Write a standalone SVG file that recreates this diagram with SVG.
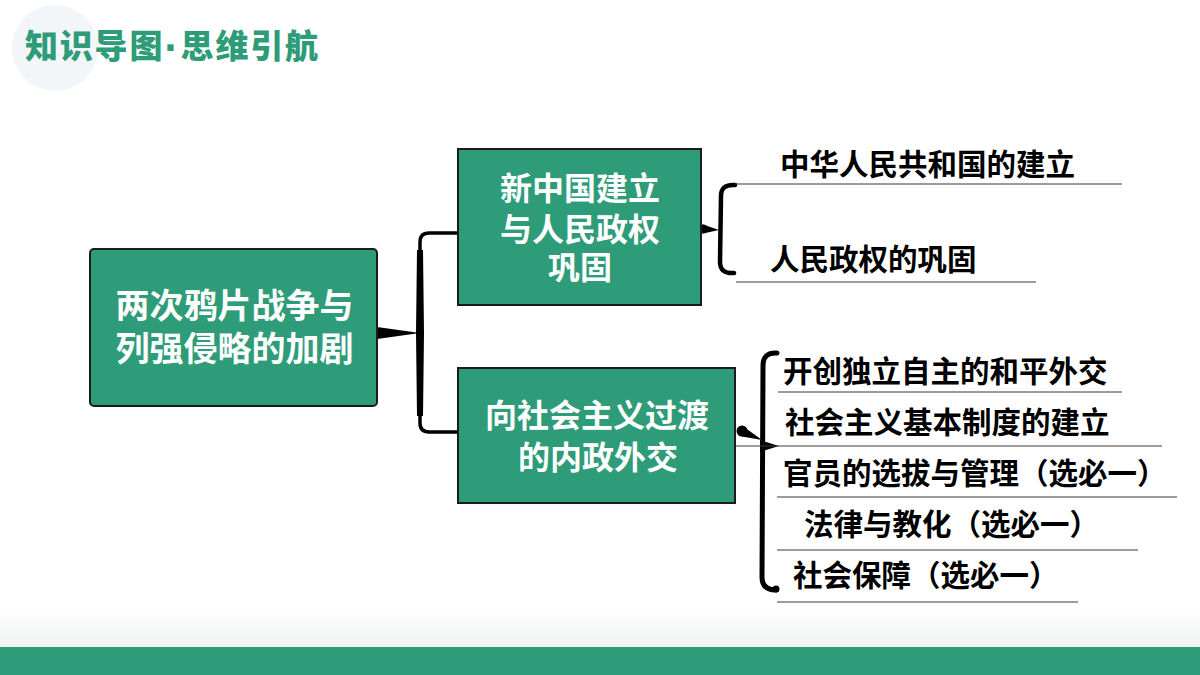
<svg xmlns="http://www.w3.org/2000/svg" width="1200" height="675" viewBox="0 0 1200 675">
<defs>
<linearGradient id="fade" x1="0" y1="0" x2="0" y2="1">
<stop offset="0" stop-color="#ffffff"/>
<stop offset="1" stop-color="#f0f1f1"/>
</linearGradient>
<style>
.box{fill:#2E9C78;stroke:#1b1b1b;stroke-width:2}
.bt{font-family:"Noto Sans CJK SC","Noto Sans",sans-serif;font-weight:700;fill:#ffffff;text-anchor:middle}
.lt{font-family:"Noto Sans CJK SC","Noto Sans",sans-serif;font-weight:700;fill:#000000;font-size:29.5px}
.tt{font-family:"Noto Sans CJK SC","Noto Sans",sans-serif;font-weight:900;fill:#2E9C78;font-size:33px}
.dot{font-family:"Liberation Sans",sans-serif;font-size:44px;font-weight:700}
.ul{stroke:#3a3a3a;stroke-width:1.2;fill:none}
.br{stroke:#000;fill:none;stroke-linecap:round;stroke-linejoin:round}
.nub{fill:#000}
</style>
</defs>
<rect x="0" y="0" width="1200" height="675" fill="#ffffff"/>
<g id="header">
<circle cx="55" cy="48" r="43" fill="#f3f6f8"/>
<text class="tt" x="25" y="58" textLength="293" lengthAdjust="spacing">知识导图<tspan class="dot" dy="5">·</tspan><tspan dy="-5">思维引航</tspan></text>
</g>
<g id="footer">
<rect x="0" y="608" width="1200" height="39" fill="url(#fade)"/>
<rect x="0" y="647" width="1200" height="28" fill="#2E9C78"/>
</g>
<g id="connectors">
<polygon class="nub" points="377,327 377,339 420,333"/>
<path class="br" d="M458,233 L429,233 Q420,233 420,242 L420,423 Q420,432 429,432 L458,432" stroke-width="3.5"/>
<polygon class="nub" points="417,250 423,250 424,333 423,416 417,416 416,333"/>
<circle class="nub" cx="703" cy="229" r="4.5"/>
<polygon class="nub" points="703,224.5 703,233.5 719,230"/>
<path class="br" d="M735,185 Q721,184 721,196 L720,262 Q720,274 734,273" stroke-width="4.5"/>
<circle class="nub" cx="742" cy="431" r="5.5"/>
<polygon class="nub" points="742,425.5 742,436.5 762,440"/>
<polygon class="nub" points="760,440 779,446 760,452"/>
<path class="br" d="M777,353 Q763,352 763,366 L762,577 Q762,590 776,590" stroke-width="5"/>
<circle class="nub" cx="776" cy="589" r="3.5"/>
</g>
<g id="node-main">
<rect class="box" x="90" y="249" width="287" height="157" rx="4"/>
<text class="bt" font-size="34"><tspan x="234.5" y="318">两次鸦片战争与</tspan><tspan x="234.5" y="361">列强侵略的加剧</tspan></text>
</g>
<g id="node-new-china">
<rect class="box" x="458" y="149" width="243" height="156"/>
<text class="bt" font-size="32"><tspan x="580" y="200">新中国建立</tspan><tspan x="580" y="241">与人民政权</tspan><tspan x="580" y="279">巩固</tspan></text>
</g>
<g id="node-transition">
<rect class="box" x="458" y="368" width="277" height="135"/>
<text class="bt" font-size="32"><tspan x="597" y="427">向社会主义过渡</tspan><tspan x="598" y="469">的内政外交</tspan></text>
</g>
<g id="leaf-1">
<text class="lt" x="780" y="175">中华人民共和国的建立</text>
<line class="ul" x1="735" y1="184" x2="1122" y2="184"/>
</g>
<g id="leaf-2">
<text class="lt" x="770" y="270">人民政权的巩固</text>
<line class="ul" x1="736" y1="282" x2="1036" y2="282"/>
</g>
<g id="leaf-3">
<text class="lt" x="783" y="382">开创独立自主的和平外交</text>
<line class="ul" x1="778" y1="392" x2="1122" y2="392"/>
</g>
<g id="leaf-4">
<text class="lt" x="785" y="433">社会主义基本制度的建立</text>
<line class="ul" x1="736" y1="446" x2="1162" y2="446"/>
</g>
<g id="leaf-5">
<text class="lt" x="783" y="484">官员的选拔与管理（选必一）</text>
<line class="ul" x1="777" y1="497" x2="1177" y2="497"/>
</g>
<g id="leaf-6">
<text class="lt" x="804" y="535">法律与教化（选必一）</text>
<line class="ul" x1="777" y1="550" x2="1138" y2="550"/>
</g>
<g id="leaf-7">
<text class="lt" x="793" y="586">社会保障（选必一）</text>
<line class="ul" x1="777" y1="602" x2="1078" y2="602"/>
</g>
</svg>
